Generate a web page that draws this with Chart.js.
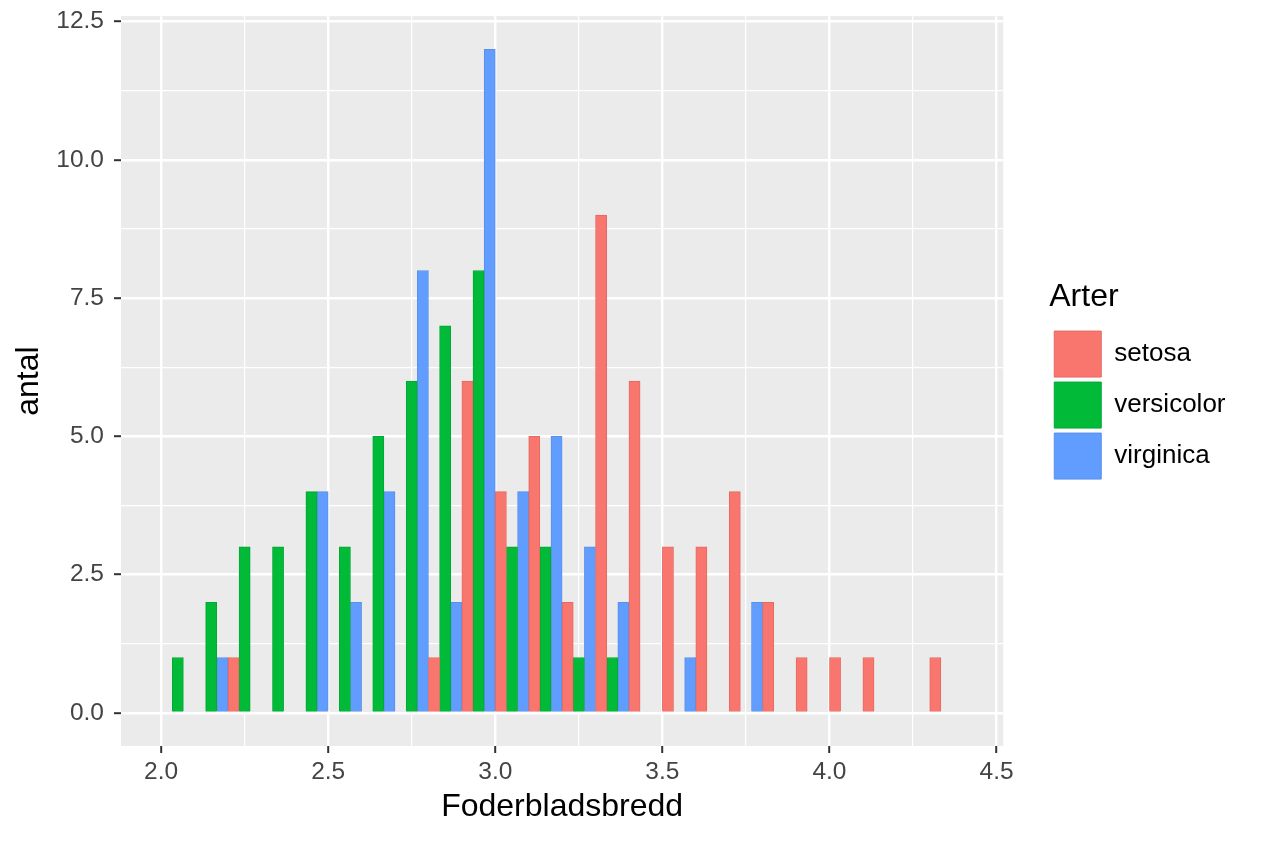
<!DOCTYPE html>
<html>
<head>
<meta charset="utf-8">
<title>Foderbladsbredd</title>
<script src="https://cdn.jsdelivr.net/npm/chart.js@4.4.1/dist/chart.umd.min.js"></script>
<style>
  html, body { margin: 0; padding: 0; background: #ffffff; }
  #wrap { width: 1264px; height: 843px; }
</style>
</head>
<body>
<div id="wrap"><canvas id="irisHist" width="1264" height="843"></canvas></div>
<script>
// bin centres (binwidth 0.1, first bin 2.0-2.1)
const binCenters = [2.05, 2.15, 2.25, 2.35, 2.45, 2.55, 2.65, 2.75, 2.85, 2.95, 3.05, 3.15,
                    3.25, 3.35, 3.45, 3.55, 3.65, 3.75, 3.85, 3.95, 4.05, 4.15, 4.25, 4.35];
const setosaCounts     = [0, 0, 1, 0, 0, 0, 0, 0, 1, 6, 4, 5, 2, 9, 6, 3, 3, 4, 2, 1, 1, 1, 0, 1];
const versicolorCounts = [1, 2, 3, 3, 4, 3, 5, 6, 7, 8, 3, 3, 1, 1, 0, 0, 0, 0, 0, 0, 0, 0, 0, 0];
const virginicaCounts  = [0, 1, 0, 0, 4, 2, 4, 8, 2, 12, 4, 5, 3, 2, 0, 1, 0, 2, 0, 0, 0, 0, 0, 0];

const speciesNames = ['setosa', 'versicolor', 'virginica'];
const fillColors = ['#F8766D', '#00BA38', '#619CFF'];
const edgeColors = ['#E56A61', '#00A933', '#5A8FEA'];

const xTickLabels = ['2.0', '2.5', '3.0', '3.5', '4.0', '4.5'];
const yTickLabels = ['0.0', '2.5', '5.0', '7.5', '10.0', '12.5'];

const FONT = "'Liberation Sans', Arial, Helvetica, sans-serif";

function majorLabel(labels, value) {
    const hit = labels.find(l => Math.abs(parseFloat(l) - value) < 1e-6);
    return hit === undefined ? '' : hit;
}
const isMajor = c => c.tick && c.tick.label !== '';

const panelBackground = {
    id: 'panelBackground',
    beforeDraw(chart) {
        const { ctx, chartArea: a } = chart;
        ctx.save();
        ctx.fillStyle = '#EBEBEB';
        ctx.fillRect(a.left, a.top, a.right - a.left, a.bottom - a.top);
        ctx.restore();
    }
};

const allCounts = [setosaCounts, versicolorCounts, virginicaCounts];
const datasets = speciesNames.map((name, k) => ({
    label: name,
    data: binCenters.map((x, i) => ({ x: x, y: allCounts[k][i] })),
    backgroundColor: fillColors[k],
    borderColor: edgeColors[k],
    borderWidth: 1,
    categoryPercentage: 1.0,
    barPercentage: 1.0
}));

const gridCommon = {
    color: '#FFFFFF',
    lineWidth: c => isMajor(c) ? 2.4 : 1.2,
    tickColor: c => isMajor(c) ? '#333333' : 'rgba(0,0,0,0)',
    tickLength: 7,
    tickWidth: 2,
    offset: false
};

const config = {
    type: 'bar',
    data: { datasets: datasets },
    options: {
        responsive: false,
        animation: false,
        layout: { padding: { top: 16, right: 28.5, bottom: 0, left: 0 } },
        plugins: {
            tooltip: { enabled: false },
            legend: {
                position: 'right',
                align: 'center',
                fullSize: false,
                title: {
                    display: true,
                    text: 'Arter',
                    position: 'start',
                    color: '#000000',
                    font: { family: FONT, size: 32, lineHeight: 1.0 },
                    padding: { top: 3, bottom: 13 }
                },
                labels: {
                    boxWidth: 47,
                    boxHeight: 46,
                    padding: 5,
                    color: '#000000',
                    font: { family: FONT, size: 26, lineHeight: 1.0 }
                }
            }
        },
        scales: {
            x: {
                type: 'linear',
                min: 1.88,
                max: 4.52,
                offset: false,
                border: { display: false },
                grid: gridCommon,
                ticks: {
                    stepSize: 0.25,
                    maxTicksLimit: 30,
                    includeBounds: false,
                    autoSkip: false,
                    maxRotation: 0,
                    padding: 6.75,
                    color: '#444444',
                    font: { family: FONT, size: 24.5, lineHeight: 1.0 },
                    callback: v => majorLabel(xTickLabels, v)
                },
                title: {
                    display: true,
                    text: 'Foderbladsbredd',
                    color: '#000000',
                    font: { family: FONT, size: 32, lineHeight: 1.0 },
                    padding: { top: 0, bottom: 20 }
                }
            },
            y: {
                type: 'linear',
                min: -0.6,
                max: 12.6,
                border: { display: false },
                grid: gridCommon,
                ticks: {
                    stepSize: 1.25,
                    maxTicksLimit: 30,
                    includeBounds: false,
                    autoSkip: false,
                    padding: 10,
                    color: '#444444',
                    font: { family: FONT, size: 24.5, lineHeight: 0.5 },
                    callback: v => majorLabel(yTickLabels, v)
                },
                title: {
                    display: true,
                    text: 'antal',
                    color: '#000000',
                    font: { family: FONT, size: 32, lineHeight: 1.0 },
                    padding: { top: 13, bottom: 1.3 }
                }
            },
            // empty spacer between panel and legend
            gap: {
                type: 'linear',
                position: 'right',
                display: true,
                grid: { display: false },
                border: { display: false },
                ticks: { display: false },
                afterFit(scale) { scale.width = 46; }
            }
        }
    },
    plugins: [panelBackground]
};

const irisHist = new Chart(document.getElementById('irisHist').getContext('2d'), config);
</script>
</body>
</html>
